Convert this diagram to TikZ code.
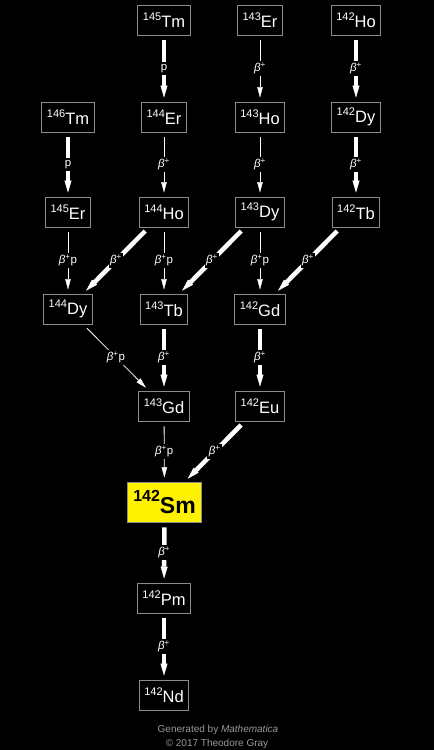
\documentclass[tikz,border=0pt]{standalone}
\usepackage{fontspec}
\setmainfont{Liberation Sans}
\usetikzlibrary{arrows.meta}
\newcommand{\iso}[2]{\raisebox{7.4pt}{\fontsize{11}{11}\selectfont #1}\fontsize{16.5}{16.5}\selectfont #2}
\newcommand{\isobig}[2]{\raisebox{12pt}{\fontsize{16}{16}\selectfont #1}\fontsize{23}{23}\selectfont #2}
\newcommand{\betap}{\textit{β}\textsuperscript{+}}
\tikzset{
  nuc/.style={draw=white!55!black, line width=0.9pt, fill=black, text=white,
    inner xsep=5pt, inner ysep=0pt, minimum height=30pt},
  bignuc/.style={nuc, fill=yellow, text=black, minimum height=40pt, inner xsep=6pt, font=\bfseries},
  heavy/.style={white, line width=4.5pt, -{Triangle[length=12pt,width=7pt,line width=0.4pt]},
    shorten <=5pt, shorten >=4pt},
  light/.style={white, line width=0.8pt, -{Triangle[length=10.5pt,width=5.5pt,line width=0.4pt]},
    shorten <=5pt, shorten >=4pt},
  lbl/.style={fill=black, text=white, inner xsep=1.5pt, inner ysep=2.2pt, font=\fontsize{11.5}{11.5}\selectfont},
  foot/.style={text=white!60!black, font=\fontsize{10}{10}\selectfont}
}
\begin{document}
\begin{tikzpicture}[x=1pt,y=-1pt]
  \fill[black] (0,0) rectangle (434,750);
  \useasboundingbox (0,0) rectangle (434,750);
  % nuclides
  \node[nuc] (tm145) at (164,20) {\iso{145}{Tm}};
  \node[nuc] (er143) at (260,20) {\iso{143}{Er}};
  \node[nuc] (ho142) at (356,20) {\iso{142}{Ho}};
  \node[nuc] (tm146) at (68,117) {\iso{146}{Tm}};
  \node[nuc] (er144) at (164,117) {\iso{144}{Er}};
  \node[nuc] (ho143) at (260,117) {\iso{143}{Ho}};
  \node[nuc] (dy142) at (356,117) {\iso{142}{Dy}};
  \node[nuc] (er145) at (68,212) {\iso{145}{Er}};
  \node[nuc] (ho144) at (164,212) {\iso{144}{Ho}};
  \node[nuc] (dy143) at (260,212) {\iso{143}{Dy}};
  \node[nuc] (tb142) at (356,212) {\iso{142}{Tb}};
  \node[nuc] (dy144) at (68,309) {\iso{144}{Dy}};
  \node[nuc] (tb143) at (164,309) {\iso{143}{Tb}};
  \node[nuc] (gd142) at (260,309) {\iso{142}{Gd}};
  \node[nuc] (gd143) at (164,406) {\iso{143}{Gd}};
  \node[nuc] (eu142) at (260,406) {\iso{142}{Eu}};
  \node[bignuc] (sm142) at (164.5,502) {\isobig{142}{Sm}};
  \node[nuc] (pm142) at (164,598) {\iso{142}{Pm}};
  \node[nuc] (nd142) at (164,695) {\iso{142}{Nd}};
  % decays
  \draw[heavy] (tm145) -- node[lbl] {p} (er144);
  \draw[light] (er143) -- node[lbl] {\betap} (ho143);
  \draw[heavy] (ho142) -- node[lbl] {\betap} (dy142);
  \draw[heavy] (tm146) -- node[lbl] {p} (er145);
  \draw[light] (er144) -- node[lbl] {\betap} (ho144);
  \draw[light] (ho143) -- node[lbl] {\betap} (dy143);
  \draw[heavy] (dy142) -- node[lbl] {\betap} (tb142);
  \draw[light] (er145) -- node[lbl] {\betap p} (dy144);
  \draw[heavy] (ho144) -- node[lbl] {\betap} (dy144);
  \draw[light] (ho144) -- node[lbl] {\betap p} (tb143);
  \draw[heavy] (dy143) -- node[lbl] {\betap} (tb143);
  \draw[light] (dy143) -- node[lbl] {\betap p} (gd142);
  \draw[heavy] (tb142) -- node[lbl] {\betap} (gd142);
  \draw[light] (dy144) -- node[lbl] {\betap p} (gd143);
  \draw[heavy] (tb143) -- node[lbl] {\betap} (gd143);
  \draw[heavy] (gd142) -- node[lbl] {\betap} (eu142);
  \draw[light] (gd143) -- node[lbl] {\betap p} (sm142);
  \draw[heavy] (eu142) -- node[lbl] {\betap} (sm142);
  \draw[heavy] (sm142) -- node[lbl] {\betap} (pm142);
  \draw[heavy] (pm142) -- node[lbl] {\betap} (nd142);
  % credits
  \node[foot] (gen) at (218,730) {Generated by \textit{Mathematica}};
  \node[foot] (copy) at (217,744) {© 2017 Theodore Gray};
\end{tikzpicture}
\end{document}
